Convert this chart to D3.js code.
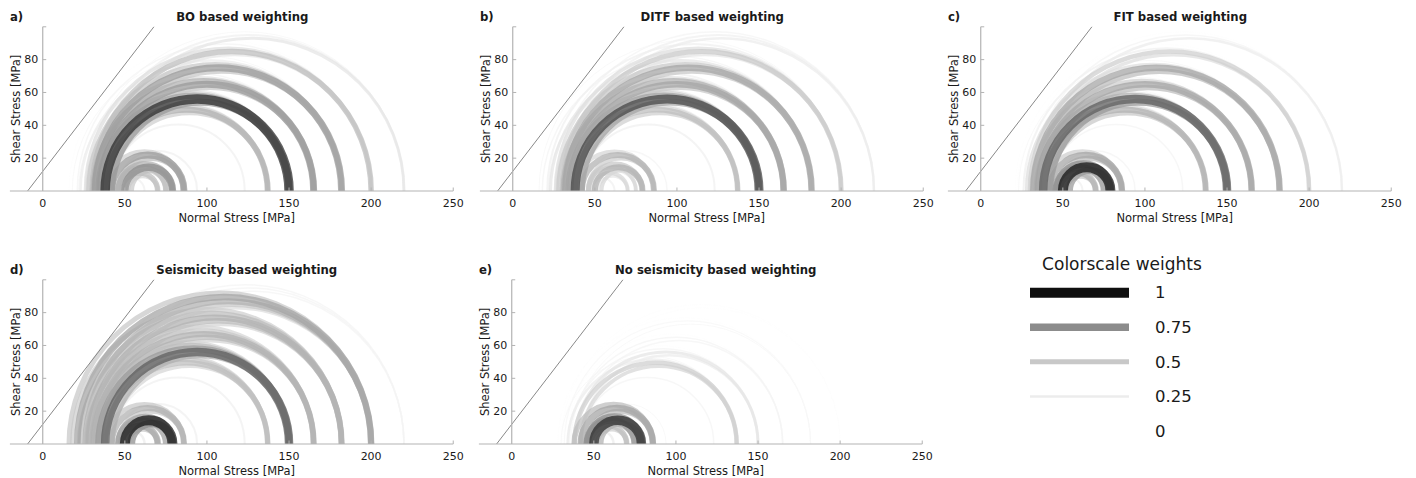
<!DOCTYPE html>
<html>
<head>
<meta charset="utf-8">
<script src="https://cdn.jsdelivr.net/npm/d3@7"></script>
<style>
  body { margin: 0; background: #fff; }
  text { font-family: "DejaVu Sans", sans-serif; fill: #1a1a1a; }
</style>
</head>
<body>
<script>
var width = 1416,
    height = 478;

// Mohr circles, effective minimum / maximum principal stress [MPa]
var sigma3 = [30, 34, 38, 42,  26, 30, 34, 38, 42,  22, 27, 31, 35, 39,  18, 23, 28, 32, 36,  16, 21, 26, 30, 34,  26, 30, 34,  42, 45, 46,  48, 52,  46, 50,  46, 50, 54,  38, 42, 46];
var sigma1 = [137, 137, 137, 137,  150, 150, 150, 150, 150,  165, 165, 165, 165, 165,  182, 182, 182, 182, 182,  200, 200, 200, 200, 200,  220, 220, 220,  123, 94, 62,  70, 70,  75, 75,  79, 79, 79,  86, 86, 86];

// weight of every circle, one list per weighting scheme
var wBO     = [0.25, 0.45, 0.6, 0.45,  0.2, 0.4, 0.65, 0.95, 0.7,  0.15, 0.35, 0.6, 0.7, 0.5,  0.1, 0.25, 0.5, 0.7, 0.5,  0.05, 0.15, 0.35, 0.55, 0.3,  0.1, 0.2, 0.3,  0.2, 0.2, 0.2,  0.55, 0.4,  0.55, 0.45,  0.6, 0.75, 0.5,  0.45, 0.7, 0.55];
var wDITF   = [0.25, 0.4, 0.55, 0.45,  0.25, 0.45, 0.65, 0.9, 0.65,  0.2, 0.35, 0.6, 0.65, 0.5,  0.15, 0.3, 0.5, 0.65, 0.5,  0.1, 0.2, 0.35, 0.5, 0.3,  0.15, 0.2, 0.25,  0.2, 0.15, 0.2,  0.4, 0.3,  0.4, 0.3,  0.5, 0.6, 0.4,  0.4, 0.6, 0.45];
var wFIT    = [0.2, 0.4, 0.6, 0.5,  0.1, 0.3, 0.6, 0.85, 0.7,  0.05, 0.15, 0.45, 0.65, 0.55,  0.02, 0.1, 0.35, 0.65, 0.55,  0.0, 0.05, 0.2, 0.45, 0.35,  0.05, 0.15, 0.25,  0.15, 0.15, 0.2,  0.6, 0.5,  0.65, 0.55,  0.75, 1.0, 0.7,  0.45, 0.65, 0.55];
var wSeis   = [0.4, 0.5, 0.55, 0.4,  0.4, 0.55, 0.7, 0.85, 0.6,  0.4, 0.5, 0.6, 0.55, 0.4,  0.45, 0.55, 0.6, 0.55, 0.4,  0.5, 0.65, 0.6, 0.5, 0.35,  0.15, 0.15, 0.15,  0.2, 0.2, 0.25,  0.65, 0.5,  0.6, 0.55,  0.65, 1.0, 0.75,  0.5, 0.6, 0.5];
var wNoSeis = [0.1, 0.25, 0.45, 0.4,  0.02, 0.05, 0.15, 0.3, 0.25,  0.0, 0.02, 0.05, 0.15, 0.15,  0.0, 0.0, 0.05, 0.12, 0.1,  0.0, 0.0, 0.02, 0.05, 0.05,  0.0, 0.02, 0.02,  0.15, 0.1, 0.25,  0.55, 0.45,  0.7, 0.6,  0.75, 0.95, 0.6,  0.55, 0.65, 0.55];

var xTicks = [0, 50, 100, 150, 200, 250];
var yTicks = [20, 40, 60, 80, 100];
var yTickLabels = ["20", "40", "60", "80", ""];

// failure envelope
var cohesion = 12,
    friction = 1.3;

var legendWeights = [1, 0.75, 0.5, 0.25, 0];
var legendLabels = ["1", "0.75", "0.5", "0.25", "0"];

var panels = [
  { label: "a)", title: "BO based weighting",            w: wBO,     left: 9.9,   base: 191, tdx: 199.5 },
  { label: "b)", title: "DITF based weighting",          w: wDITF,   left: 479.9, base: 191, tdx: 199.5 },
  { label: "c)", title: "FIT based weighting",           w: wFIT,    left: 947.9, base: 191, tdx: 199.5 },
  { label: "d)", title: "Seismicity based weighting",    w: wSeis,   left: 9.9,   base: 444, tdx: 204 },
  { label: "e)", title: "No seismicity based weighting", w: wNoSeis, left: 478.9, base: 444, tdx: 204 }
];

var k = 1.642; // px per MPa, axis equal

var color = d3.scaleLinear()
    .domain([0, 0.25, 0.5, 0.75, 1])
    .range(["#ffffff", "#ececec", "#c8c8c8", "#8c8c8c", "#0f0f0f"]);

var lineW = d3.scaleLinear().domain([0, 1]).range([0, 10]);

var svg = d3.select("body").append("svg")
    .attr("width", width)
    .attr("height", height);

panels.forEach(function(p) {
  var x = d3.scaleLinear().domain([-20, 250]).range([p.left, p.left + 270 * k]);
  var y = d3.scaleLinear().domain([0, 100]).range([p.base, p.base - 100 * k]);

  var g = svg.append("g");

  var circles = sigma3.map(function(s3, i) {
    return { s3: s3, s1: sigma1[i], w: p.w[i] };
  }).filter(function(d) { return d.w > 0; });
  circles.sort(function(a, b) { return a.w - b.w; });

  g.selectAll(".mohr")
      .data(circles)
    .enter().append("path")
      .attr("class", "mohr")
      .attr("fill", "none")
      .attr("stroke", function(d) { return color(d.w); })
      .attr("stroke-width", function(d) { return lineW(d.w); })
      .attr("stroke-opacity", 0.72)
      .attr("d", function(d) {
        var rx = (x(d.s1) - x(d.s3)) / 2,
            ry = y(0) - y((d.s1 - d.s3) / 2);
        return "M" + x(d.s3) + "," + y(0) + "A" + rx + "," + ry + " 0 0 1 " + x(d.s1) + "," + y(0);
      });

  // failure line
  g.append("line")
      .attr("x1", x(-cohesion / friction)).attr("y1", y(0))
      .attr("x2", x((100 - cohesion) / friction)).attr("y2", y(100))
      .attr("stroke", "#888")
      .attr("stroke-width", 1);

  // axes through origin
  g.append("line")
      .attr("x1", x(-20)).attr("x2", x(250))
      .attr("y1", y(0)).attr("y2", y(0))
      .attr("stroke", "#b3b3b3").attr("stroke-width", 1.2);
  g.append("line")
      .attr("x1", x(0)).attr("x2", x(0))
      .attr("y1", y(0)).attr("y2", y(100))
      .attr("stroke", "#b3b3b3").attr("stroke-width", 1.2);

  g.selectAll(".xt")
      .data(xTicks.slice(1))
    .enter().append("line")
      .attr("x1", function(d) { return x(d); })
      .attr("x2", function(d) { return x(d); })
      .attr("y1", y(0)).attr("y2", y(0) - 3.5)
      .attr("stroke", "#b3b3b3");

  g.selectAll(".yt")
      .data(yTicks)
    .enter().append("line")
      .attr("x1", x(0)).attr("x2", x(0) + 3.5)
      .attr("y1", function(d) { return y(d); })
      .attr("y2", function(d) { return y(d); })
      .attr("stroke", "#b3b3b3");

  g.selectAll(".xl")
      .data(xTicks)
    .enter().append("text")
      .attr("x", function(d) { return x(d); })
      .attr("y", y(0) + 12)
      .attr("dy", "0.35em")
      .attr("text-anchor", "middle")
      .style("font-size", "11px")
      .text(function(d) { return d; });

  g.selectAll(".yl")
      .data(yTicks)
    .enter().append("text")
      .attr("x", x(0) - 4.5)
      .attr("y", function(d) { return y(d); })
      .attr("dy", "0.35em")
      .attr("text-anchor", "end")
      .style("font-size", "11px")
      .text(function(d, i) { return yTickLabels[i]; });

  g.append("text")
      .attr("x", x(0) + 194)
      .attr("y", y(0) + 27)
      .attr("dy", "0.35em")
      .attr("text-anchor", "middle")
      .style("font-size", "11.5px")
      .text("Normal Stress [MPa]");

  g.append("text")
      .attr("transform", "translate(" + (x(0) - 27) + "," + y(50) + ") rotate(-90)")
      .attr("dy", "0.35em")
      .attr("text-anchor", "middle")
      .style("font-size", "11.5px")
      .text("Shear Stress [MPa]");

  g.append("text")
      .attr("x", x(0) + p.tdx)
      .attr("y", p.base - 174)
      .attr("dy", "0.35em")
      .attr("text-anchor", "middle")
      .style("font-size", "11.7px")
      .style("font-weight", "bold")
      .text(p.title);

  g.append("text")
      .attr("x", p.left)
      .attr("y", p.base - 174)
      .attr("dy", "0.35em")
      .style("font-size", "11.7px")
      .style("font-weight", "bold")
      .text(p.label);
});

// legend
var leg = svg.append("g");
var ly = d3.scalePoint().domain(legendLabels).range([292.7, 431]);

leg.append("text")
    .attr("x", 1122).attr("y", 264)
    .attr("dy", "0.35em")
    .attr("text-anchor", "middle")
    .style("font-size", "17px")
    .text("Colorscale weights");

leg.selectAll(".ll")
    .data(legendWeights)
  .enter().append("line")
    .attr("x1", 1030).attr("x2", 1129)
    .attr("y1", function(d, i) { return ly(legendLabels[i]); })
    .attr("y2", function(d, i) { return ly(legendLabels[i]); })
    .attr("stroke", function(d) { return color(d); })
    .attr("stroke-width", function(d) { return lineW(d); });

leg.selectAll(".lt")
    .data(legendLabels)
  .enter().append("text")
    .attr("x", 1155)
    .attr("y", function(d) { return ly(d); })
    .attr("dy", "0.35em")
    .style("font-size", "16.5px")
    .text(function(d) { return d; });
</script>
</body>
</html>
